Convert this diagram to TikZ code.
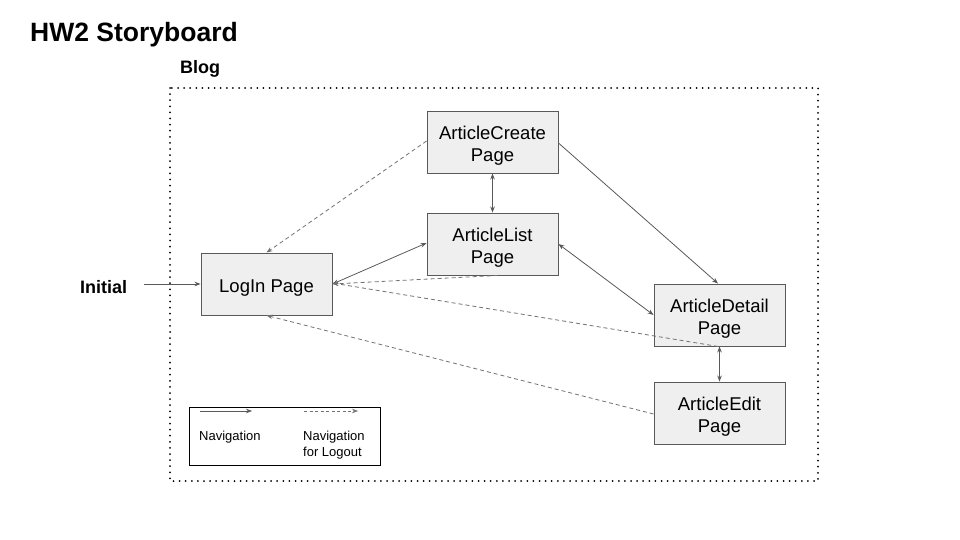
\documentclass[tikz,border=0pt]{standalone}
\usepackage{fontspec}
\setmainfont{Liberation Sans}
\usetikzlibrary{arrows.meta,calc}
\definecolor{boxfill}{HTML}{EFEFEF}
\definecolor{linegray}{HTML}{595959}
\begin{document}
\begin{tikzpicture}[x=1pt,y=-1pt,
  page/.style={draw=linegray,fill=boxfill,line width=0.9pt,minimum width=131pt,minimum height=62pt,inner sep=0pt},
  pagetext/.style={align=center,font=\fontsize{18.5}{22}\selectfont,inner sep=0pt},
  nav/.style={draw=linegray,line width=0.8pt,-{Stealth[length=6pt,width=4.5pt]}},
  navboth/.style={draw=linegray,line width=0.8pt,{Stealth[length=6pt,width=4.5pt]}-{Stealth[length=6pt,width=4.5pt]}},
  logout/.style={draw=linegray!85,line width=0.8pt,dash pattern=on 4pt off 3pt,-{Stealth[length=6pt,width=4.5pt]}},
  lbl/.style={font=\fontsize{13}{16}\selectfont,align=left,inner sep=0pt,anchor=north west}]
\useasboundingbox (0,0) rectangle (960,540);
% title and labels
\node[anchor=west,inner sep=0pt,font=\fontsize{26.5}{30}\selectfont\bfseries] (title) at (30,35) {HW2 Storyboard};
\node[anchor=west,inner sep=0pt,font=\fontsize{18}{21}\selectfont\bfseries] (blog) at (180,69) {Blog};
% blog container
\draw[line width=2pt,dash pattern=on 0pt off 6.1pt,line cap=round] (170,88) rectangle (818,481);
% nodes
\node[page] (login) at (266.5,284) {};
\node[page] (create) at (492.5,142) {};
\node[page] (list) at (492.5,244) {};
\node[page] (detail) at (719.5,315) {};
\node[page] (edit) at (719.5,413) {};
\node[pagetext] (logintxt) at ($(login)+(0,4)$) {LogIn Page};
\node[pagetext] (createtxt) at ($(create)+(0,4)$) {ArticleCreate\\Page};
\node[pagetext] (listtxt) at ($(list)+(0,4)$) {ArticleList\\Page};
\node[pagetext] (detailtxt) at ($(detail)+(0,4)$) {ArticleDetail\\Page};
\node[pagetext] (edittxt) at ($(edit)+(0,4)$) {ArticleEdit\\Page};
% initial
\node[anchor=west,inner sep=0pt,font=\fontsize{18}{21}\selectfont\bfseries] (initial) at (80,287) {Initial};
\coordinate (initstart) at (144,284);
\draw[nav] (initstart) -- (login.west);
% solid navigation
\draw[navboth] (create.south) -- (list.north);
\draw[navboth] (login.east) -- ([yshift=1pt]list.west);
\draw[nav] ([yshift=-1pt]create.east) -- ([xshift=-1.5pt]detail.north);
\draw[navboth] (list.east) -- (detail.west);
\draw[navboth] (detail.south) -- (edit.north);
% logout navigation
\draw[logout] ([yshift=1pt]create.west) -- (login.north);
\draw[logout] ([xshift=5pt]list.south) -- (login.east);
\draw[logout] ([xshift=-1.5pt]detail.south) -- ([yshift=1pt]login.east);
\draw[logout] ([yshift=-1pt]edit.west) -- (login.south);
% legend
\node[draw=black,line width=0.9pt,minimum width=191pt,minimum height=58pt,inner sep=0pt] (legend) at (284.5,436) {};
\coordinate (l1a) at (200,411);
\coordinate (l1b) at (252,411);
\coordinate (l2a) at (304,411);
\coordinate (l2b) at (358,411);
\draw[nav,line width=0.6pt] (l1a) -- (l1b);
\draw[logout,line width=0.6pt,dash pattern=on 3pt off 2.5pt] (l2a) -- (l2b);
\node[lbl] (navtxt) at (199,431) {Navigation};
\node[lbl] (logtxt) at (303,431) {Navigation\\for Logout};
\end{tikzpicture}
\end{document}
